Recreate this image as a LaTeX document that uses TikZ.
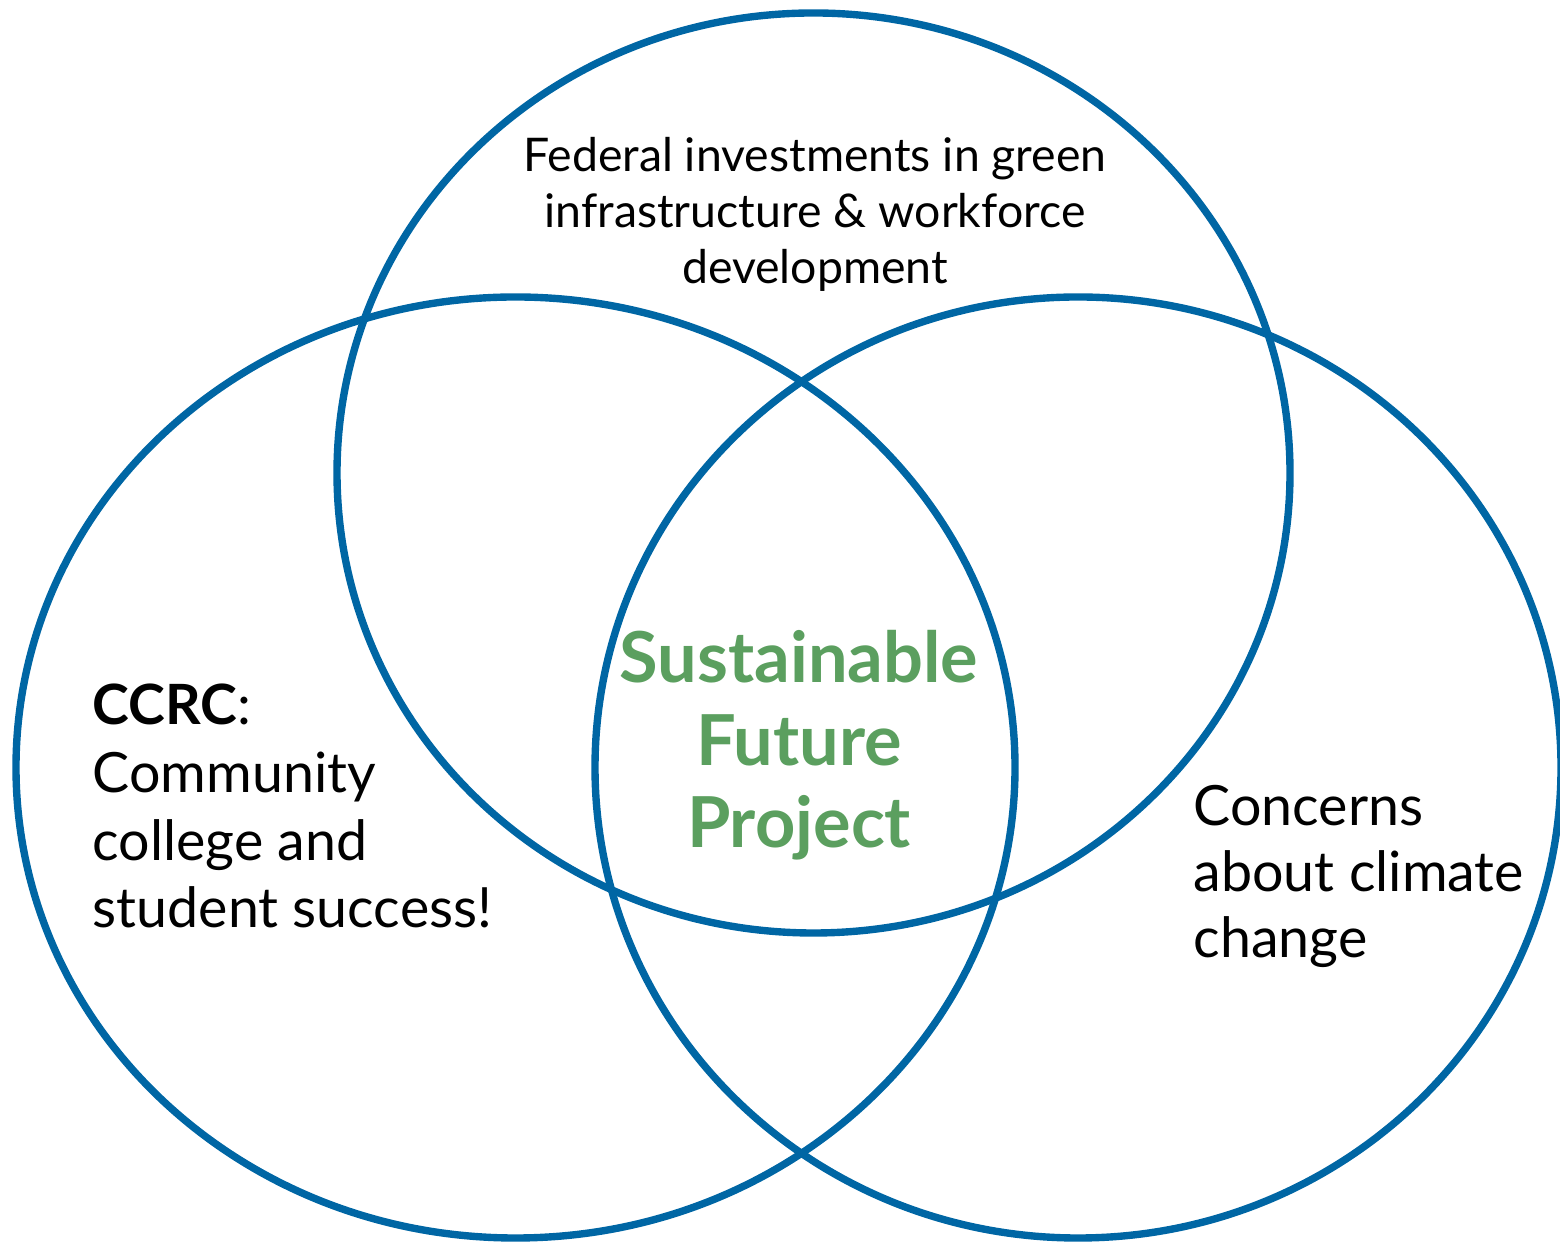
\documentclass[tikz,border=0pt]{standalone}
\usepackage{fontspec}
\setmainfont{Lato}
\definecolor{vennblue}{RGB}{0,102,164}
\definecolor{venngreen}{RGB}{91,159,95}
\tikzset{ring/.style={draw=vennblue,line width=2.1pt},
         venntext/.style={inner sep=0pt,text=black}}

\begin{document}
\begin{tikzpicture}
                  \useasboundingbox (0,0) rectangle (15.6,12.42);
                  \draw[ring] (8.135,7.69) ellipse [x radius=4.765cm,y radius=4.60cm];
                  \draw[ring] (5.155,4.745) ellipse [x radius=4.995cm,y radius=4.705cm];
                  \draw[ring] (10.78,4.745) ellipse [x radius=4.83cm,y radius=4.705cm];
                  \node[venntext,anchor=base,align=center,font=\fontsize{13.2}{16.0}\selectfont] (federal) at (8.15,9.58) {Federal investments in green\\infrastructure \& workforce\\development};
                  \node[venntext,anchor=base west,align=left,font=\fontsize{15.8}{19.3}\selectfont] (ccrc) at (0.92,3.14) {\textbf{CCRC}:\\Community\\college and\\student success!};
                  \node[venntext,text=venngreen,anchor=base,align=center,font=\fontsize{20}{23.6}\selectfont\bfseries] (sfp) at (7.99,3.94) {Sustainable\\Future\\Project};
                  \node[venntext,anchor=base west,align=left,font=\fontsize{15.8}{18.9}\selectfont] (climate) at (11.93,2.84) {Concerns\\about climate\\change};
              \end{tikzpicture}
\end{document}
